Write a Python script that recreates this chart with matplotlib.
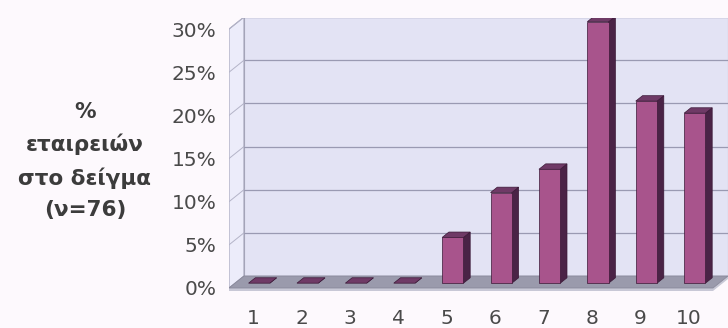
import numpy as np
import matplotlib
matplotlib.use("Agg")
from matplotlib import pyplot as plt
from matplotlib.patches import Polygon

# data (share of the 76 firms per score)
categories = [1, 2, 3, 4, 5, 6, 7, 8, 9, 10]
share_pct = [0.0, 0.0, 0.0, 0.0, 5.3, 10.5, 13.2, 30.3, 21.1, 19.7]
ytick_vals = [0, 5, 10, 15, 20, 25, 30]
ytick_labels = ["0%", "5%", "10%", "15%", "20%", "25%", "30%"]
ylabel_text = "%\nεταιρειών\nστο δείγμα\n(ν=76)"

W, H = 728, 328
fig = plt.figure(figsize=(W / 100, H / 100), dpi=100)
fig.patch.set_facecolor("#fdf9fd")

# axes box in pixels: front-left corner of the floor at (229, 291)
left_px, right_px, bottom_px, top_px = 229, 728, 37, 310
ax = fig.add_axes([left_px / W, bottom_px / H, (right_px - left_px) / W, (top_px - bottom_px) / H])
ax.set_facecolor("none")

px_per_cat = 48.4
px_per_pct = 8.63
DX = 15 / px_per_cat      # depth offset of the walls, data units
DY = 12 / px_per_pct
x0 = 0.5
x1 = 10.5
ymax = 30
ax.set_xlim(x0, x1 + DX)
ax.set_ylim(-0.35, (top_px - bottom_px) / px_per_pct - 0.35)

# walls and floor
back = Polygon([(x0 + DX, DY), (x1 + DX, DY), (x1 + DX, ymax + DY), (x0 + DX, ymax + DY)],
               closed=True, facecolor="#e3e3f4", edgecolor="#a4a4b8", lw=0.8, zorder=1)
ax.add_patch(back)
side = Polygon([(x0, 0), (x0 + DX, DY), (x0 + DX, ymax + DY), (x0, ymax)],
               closed=True, facecolor="#ececfa", edgecolor="#a4a4b8", lw=0.8, zorder=1)
ax.add_patch(side)
floor = Polygon([(x0, 0), (x1, 0), (x1 + DX, DY), (x0 + DX, DY)],
                closed=True, facecolor="#9a9aac", edgecolor="#88889a", lw=0.6, zorder=2)
ax.add_patch(floor)
slab = Polygon([(x0, -0.35), (x1, -0.35), (x1 + DX, DY - 0.35), (x1 + DX, DY), (x1, 0), (x0, 0)],
               closed=True, facecolor="#c8c8d6", edgecolor="none", zorder=1.5)
ax.add_patch(slab)

# gridlines on back wall and left wall
for v in ytick_vals[1:]:
    ax.plot([x0 + DX, x1 + DX], [v + DY, v + DY], color="#9a9ab2", lw=0.9, zorder=1.2)
    ax.plot([x0, x0 + DX], [v, v + DY], color="#b4b4c8", lw=0.7, zorder=1.2)

# bars (front face, right side, top)
bar_w = 0.44
f_front, f_back = 0.4, 0.85
front_col, side_col, top_col, edge_col = "#a8548c", "#4a2346", "#6f3a66", "#3a1836"
for c, v in zip(categories, share_pct):
    xl = c - bar_w / 2
    xr = c + bar_w / 2
    fx, fy = f_front * DX, f_front * DY
    bx, by = f_back * DX, f_back * DY
    ax.add_patch(Polygon([(xr + fx, fy), (xr + bx, by), (xr + bx, v + by), (xr + fx, v + fy)],
                         closed=True, facecolor=side_col, edgecolor=edge_col, lw=0.5, zorder=3))
    ax.add_patch(Polygon([(xl + fx, v + fy), (xr + fx, v + fy), (xr + bx, v + by), (xl + bx, v + by)],
                         closed=True, facecolor=top_col, edgecolor=edge_col, lw=0.5, zorder=3))
    if v > 0:
        ax.bar(c + fx, v, width=bar_w, bottom=fy, color=front_col, edgecolor=edge_col,
               linewidth=0.5, zorder=4)

# ticks
for s in ax.spines.values():
    s.set_visible(False)
ax.set_yticks(ytick_vals)
ax.set_yticklabels(ytick_labels)
ax.set_xticks(categories)
ax.set_xticklabels([str(c) for c in categories])
ax.tick_params(axis="y", length=0, pad=9, labelsize=14.5, labelcolor="#4a4a4a")
ax.tick_params(axis="x", length=0, pad=13, labelsize=14.5, labelcolor="#4a4a4a")

fig.text(85 / W, 1 - 161 / H, ylabel_text, ha="center", va="center", multialignment="center",
         fontsize=15.5, fontweight="bold", color="#3c3c3c", linespacing=1.7)

fig.savefig("out.png", dpi=100, facecolor=fig.get_facecolor())
